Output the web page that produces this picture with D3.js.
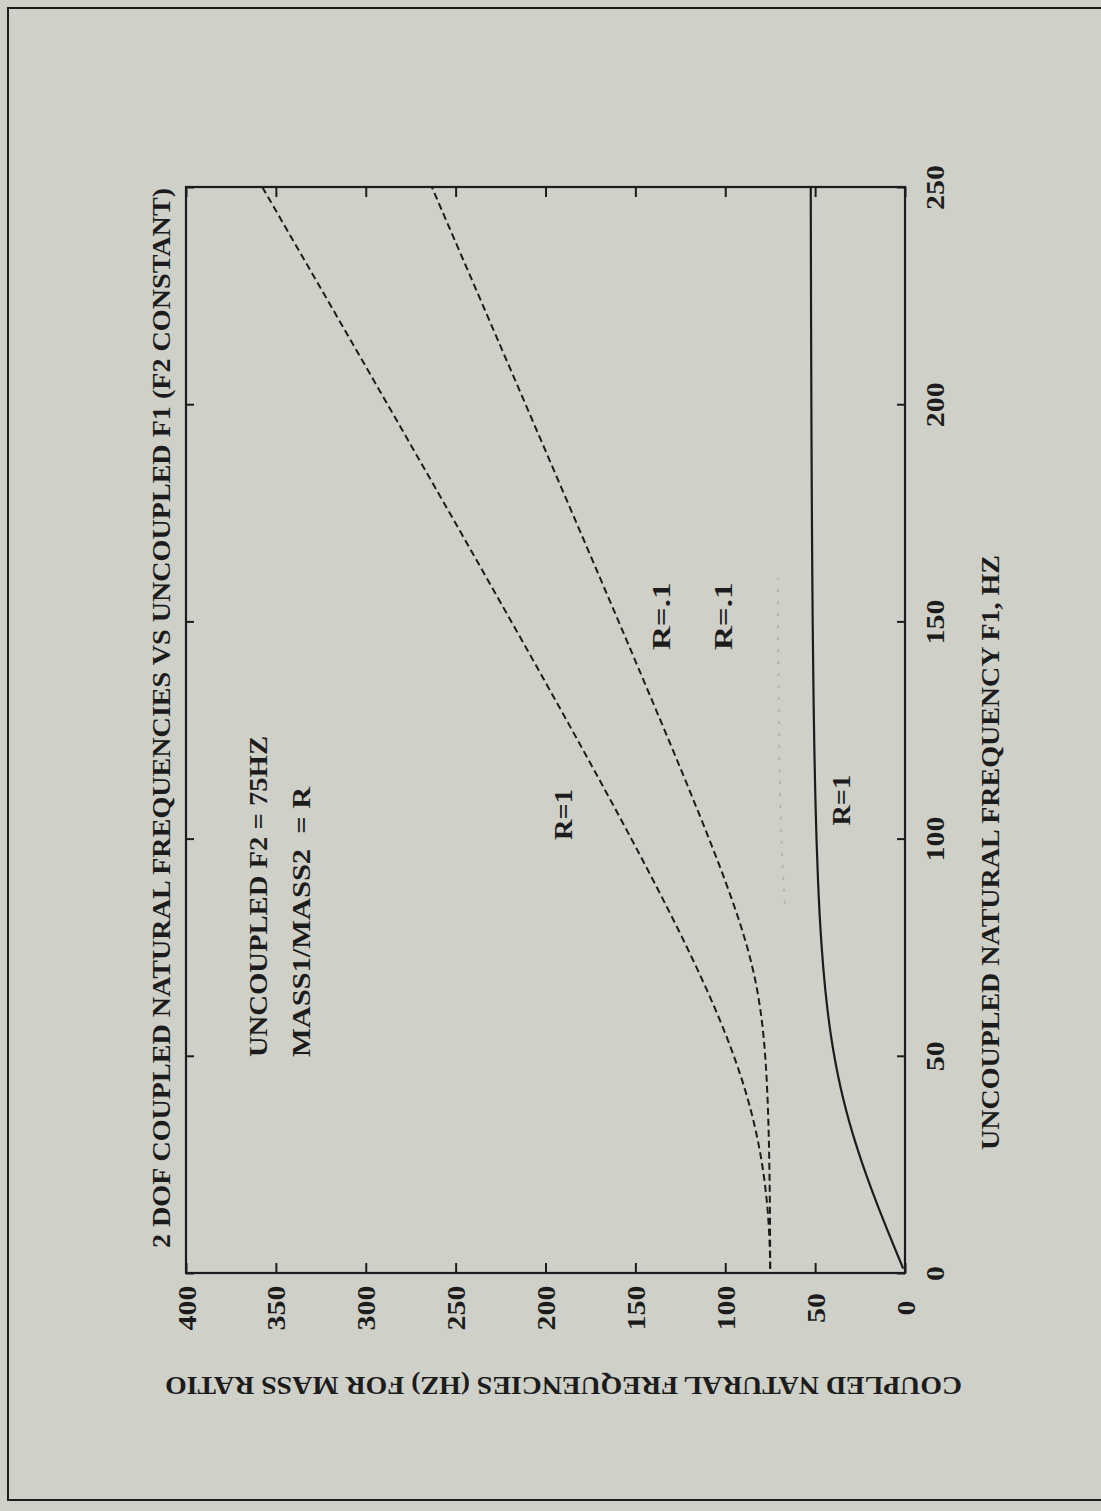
<!DOCTYPE html>
<html>
<head>
<meta charset="utf-8">
<script src="https://cdn.jsdelivr.net/npm/d3@7"></script>
<style>
  html, body { margin: 0; padding: 0; background: #cfd0c8; }
  svg { display: block; }
  text { font-family: "Liberation Serif", "DejaVu Serif", serif; font-weight: bold; fill: #1c1c1c; white-space: pre; }
</style>
</head>
<body>
<svg id="chart" width="1101" height="1511"></svg>
<script>
// Uncoupled natural frequency F1 (Hz) at which the coupled modes are sampled
const f1Hz = [1, 5, 10, 15, 20, 25, 30, 35, 40, 45, 50, 55, 60, 65, 70, 75, 80,
              90, 100, 110, 120, 130, 140, 150, 160, 170, 180, 190, 200, 210, 220, 230, 240, 250];

// Mass ratio R = 1 : upper (dashed) and lower (solid) coupled frequencies, Hz
const upperR1 = [75.0, 75.17, 75.68, 76.54, 77.80, 79.49, 81.64, 84.29, 87.45, 91.12, 95.27, 99.84,
                 104.79, 110.06, 115.60, 121.35, 127.29, 139.60, 152.32, 165.33, 178.56, 191.95,
                 205.46, 219.06, 232.74, 246.47, 260.26, 274.08, 287.94, 301.83, 315.74, 329.68, 343.63, 357.60];
const lowerR1 = [1.0, 4.99, 9.91, 14.70, 19.28, 23.59, 27.56, 31.14, 34.30, 37.04, 39.36, 41.32,
                 42.94, 44.29, 45.42, 46.35, 47.14, 48.35, 49.24, 49.90, 50.40, 50.79,
                 51.10, 51.36, 51.56, 51.73, 51.87, 51.99, 52.09, 52.18, 52.26, 52.32, 52.38, 52.43];

// Mass ratio R = .1 : upper (dashed) coupled frequency, Hz
const upperR01 = [75.0, 75.02, 75.07, 75.16, 75.29, 75.47, 75.71, 76.03, 76.45, 77.02, 77.79, 78.83,
                  80.26, 82.18, 84.69, 87.79, 91.42, 99.80, 109.07, 118.79, 128.76, 138.87,
                  149.08, 159.34, 169.65, 179.99, 190.36, 200.74, 211.13, 221.54, 231.96, 242.38, 252.82, 263.25];

// Mass ratio R = .1 : lower coupled frequency (light dotted trace), Hz
const f1HzLowerR01 = [85, 90, 100, 110, 120, 130, 140, 150, 160];
const lowerR01 = [66.78, 67.63, 68.76, 69.45, 69.90, 70.21, 70.43, 70.60, 70.73];

// Tick values
const hzTicks = [0, 50, 100, 150, 200, 250, 300, 350, 400];
const f1Ticks = [0, 50, 100, 150, 200, 250];

// Text strings
const titleText = "2 DOF COUPLED NATURAL FREQUENCIES VS UNCOUPLED F1 (F2 CONSTANT)";
const f1AxisText = "UNCOUPLED NATURAL FREQUENCY F1, HZ";
const hzAxisText = "COUPLED NATURAL FREQUENCIES (HZ) FOR MASS RATIO";

// Notes placed inside the plot: [text, F1 (Hz), coupled frequency (Hz)]
const notes = [
  ["UNCOUPLED F2 = 75HZ", 49.7, 355],
  ["MASS1/MASS2  = R", 49.7, 331],
  ["R=1", 99.7, 185.3],
  ["R=.1", 143.4, 130.7],
  ["R=.1", 143.4, 96.2],
  ["R=1", 103, 30.6]
];

const svg = d3.select("#chart");
const W = 1101, H = 1511;
const ink = "#1c1c1c";

svg.append("rect").attr("width", W).attr("height", H).attr("fill", "#cfd0c8");

// page frame (runs off the right edge of the sheet)
svg.append("path")
  .attr("d", `M${W + 2},8 H8 V1500 H${W + 2}`)
  .attr("fill", "none").attr("stroke", ink).attr("stroke-width", 2);

// The plot is printed in landscape: F1 runs up the page, coupled Hz runs right-to-left.
const box = { left: 186, right: 905, top: 187, bottom: 1273 };
const hz = d3.scaleLinear().domain([0, 400]).range([box.right, box.left]);
const f1 = d3.scaleLinear().domain([0, 250]).range([box.bottom, box.top]);

// rotated text helper: reads bottom-to-top (angle -90) or upside down (180)
function label(str, x, y, opts) {
  const o = Object.assign({ angle: -90, size: 26, anchor: "start", len: null }, opts || {});
  const t = svg.append("text")
    .attr("transform", `translate(${x},${y}) rotate(${o.angle})`)
    .attr("text-anchor", o.anchor)
    .attr("font-size", o.size)
    .text(str);
  if (o.len) t.attr("textLength", o.len).attr("lengthAdjust", "spacingAndGlyphs");
  return t;
}

// axes (ticks point inward on all four sides)
const axisStyle = g => {
  g.select(".domain").remove();
  g.selectAll(".tick line").attr("stroke", ink).attr("stroke-width", 2);
};
const tickText = sel => sel
  .attr("text-anchor", "middle")
  .attr("font-size", 26)
  .attr("font-family", null)
  .attr("fill", ink)
  .each(function () {
    const s = d3.select(this);
    s.attr("textLength", s.text().length * 15).attr("lengthAdjust", "spacingAndGlyphs");
  });

const bottomAxis = svg.append("g")
  .attr("transform", `translate(0,${box.bottom})`)
  .call(d3.axisBottom(hz).tickValues(hzTicks).tickSize(-10).tickFormat(d3.format("d")))
  .call(axisStyle);
bottomAxis.selectAll(".tick text")
  .attr("y", null).attr("dy", null)
  .attr("transform", "translate(9,35) rotate(-90)")
  .call(tickText);

svg.append("g")
  .attr("transform", `translate(0,${box.top})`)
  .call(d3.axisTop(hz).tickValues(hzTicks).tickSize(-10).tickFormat(""))
  .call(axisStyle);

const rightAxis = svg.append("g")
  .attr("transform", `translate(${box.right},0)`)
  .call(d3.axisRight(f1).tickValues(f1Ticks).tickSize(-8).tickFormat(d3.format("d")))
  .call(axisStyle);
rightAxis.selectAll(".tick text")
  .attr("x", null).attr("dy", null)
  .attr("transform", "translate(39,0) rotate(-90)")
  .call(tickText);

svg.append("g")
  .attr("transform", `translate(${box.left},0)`)
  .call(d3.axisLeft(f1).tickValues(f1Ticks).tickSize(-8).tickFormat(""))
  .call(axisStyle);

// plot box
svg.append("rect")
  .attr("x", box.left).attr("y", box.top)
  .attr("width", box.right - box.left).attr("height", box.bottom - box.top)
  .attr("fill", "none").attr("stroke", ink).attr("stroke-width", 2.2);

// curves
const curve = d3.line().x(d => hz(d[1])).y(d => f1(d[0])).curve(d3.curveMonotoneY);
const pairs = (xs, ys) => xs.map((x, i) => [x, ys[i]]);

svg.append("path").datum(pairs(f1Hz, upperR1)).attr("d", curve)
  .attr("fill", "none").attr("stroke", ink).attr("stroke-width", 2).attr("stroke-dasharray", "7,4");
svg.append("path").datum(pairs(f1Hz, upperR01)).attr("d", curve)
  .attr("fill", "none").attr("stroke", ink).attr("stroke-width", 2).attr("stroke-dasharray", "7,4");
svg.append("path").datum(pairs(f1Hz, lowerR1)).attr("d", curve)
  .attr("fill", "none").attr("stroke", ink).attr("stroke-width", 2.2);
svg.append("path").datum(pairs(f1HzLowerR01, lowerR01)).attr("d", curve)
  .attr("fill", "none").attr("stroke", "#b3b4ab").attr("stroke-width", 2).attr("stroke-dasharray", "3,9");

// titles
label(titleText, 170, 1248, { len: 1060 });
label(f1AxisText, 999, 1150, { len: 595 });
label(hzAxisText, 962, 1377, { angle: 180, len: 797 });

// notes inside the plot
notes.forEach(([txt, fv, hv]) => {
  label(txt, hz(hv), f1(fv), { len: txt.length * 16.9 });
});
</script>
</body>
</html>
